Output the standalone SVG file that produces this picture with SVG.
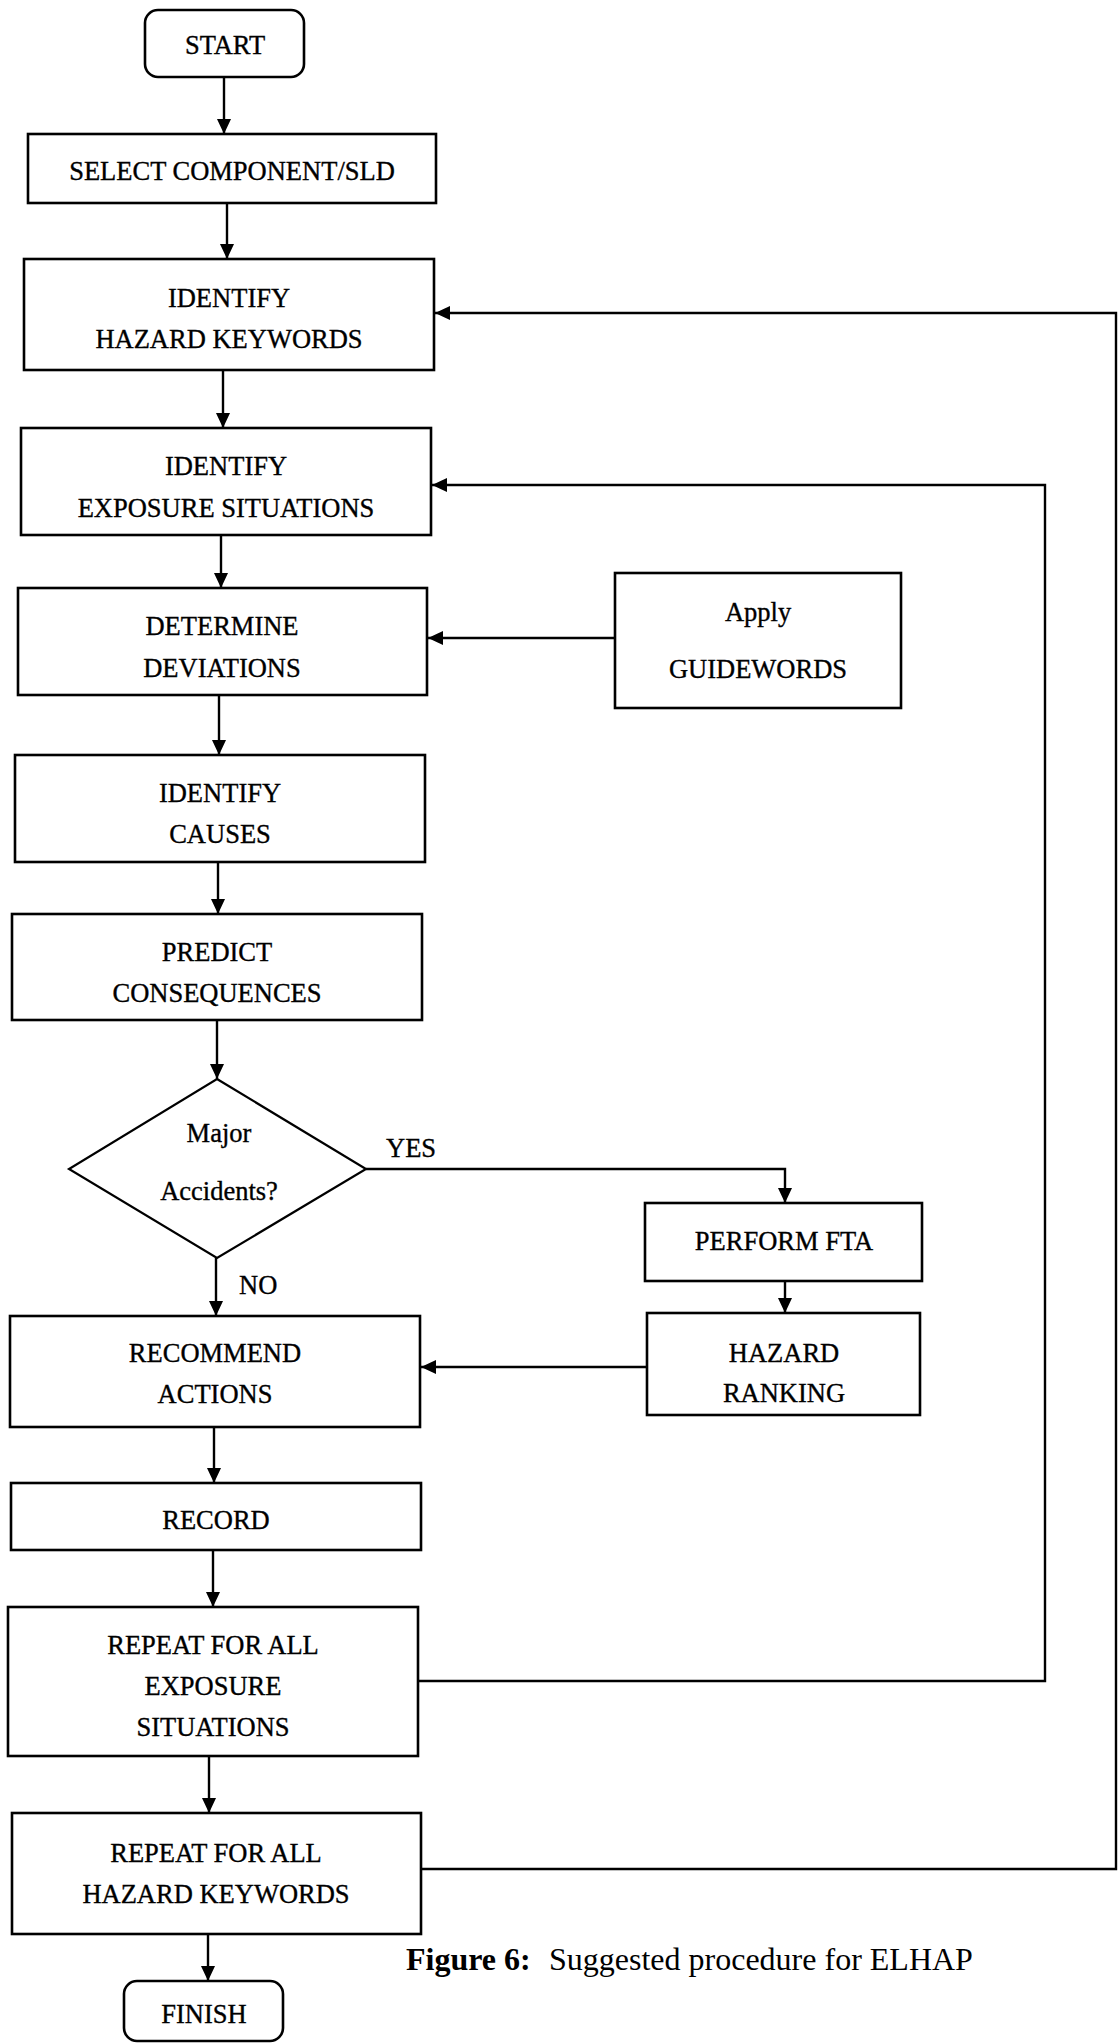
<svg xmlns="http://www.w3.org/2000/svg" width="1119" height="2043" viewBox="0 0 1119 2043">
<defs>
<style>
.box{fill:#fff;stroke:#000;stroke-width:2.6}
.t{font-family:"Liberation Serif","Times New Roman",serif;font-size:26.5px;fill:#000;stroke:#000;stroke-width:0.35;text-anchor:middle}
.lbl{font-family:"Liberation Serif","Times New Roman",serif;font-size:26.5px;fill:#000;stroke:#000;stroke-width:0.35}
.cap{font-family:"Liberation Serif","Times New Roman",serif;font-size:32px;fill:#000}
.c{fill:none;stroke:#000;stroke-width:2.4}
</style>
<marker id="ah" viewBox="0 0 15 14" refX="15" refY="7" markerWidth="15" markerHeight="14" markerUnits="userSpaceOnUse" orient="auto">
<path d="M0,0 L15,7 L0,14 z" fill="#000"/>
</marker>
</defs>
<rect width="1119" height="2043" fill="#fff"/>

<g id="connectors">
<path class="c" d="M224,77 L224,134" marker-end="url(#ah)"/>
<path class="c" d="M227,203 L227,259" marker-end="url(#ah)"/>
<path class="c" d="M223,370 L223,428" marker-end="url(#ah)"/>
<path class="c" d="M221,535 L221,588" marker-end="url(#ah)"/>
<path class="c" d="M219,695 L219,755" marker-end="url(#ah)"/>
<path class="c" d="M218,862 L218,914" marker-end="url(#ah)"/>
<path class="c" d="M217,1020 L217,1079" marker-end="url(#ah)"/>
<path class="c" d="M216,1258 L216,1316" marker-end="url(#ah)"/>
<path class="c" d="M366,1169 L785,1169 L785,1203" marker-end="url(#ah)"/>
<path class="c" d="M785,1281 L785,1313" marker-end="url(#ah)"/>
<path class="c" d="M647,1367 L421,1367" marker-end="url(#ah)"/>
<path class="c" d="M615,638 L428,638" marker-end="url(#ah)"/>
<path class="c" d="M214,1427 L214,1483" marker-end="url(#ah)"/>
<path class="c" d="M213,1550 L213,1607" marker-end="url(#ah)"/>
<path class="c" d="M209,1756 L209,1813" marker-end="url(#ah)"/>
<path class="c" d="M208,1934 L208,1981" marker-end="url(#ah)"/>
<path class="c" d="M418,1681 L1045,1681 L1045,485 L432,485" marker-end="url(#ah)"/>
<path class="c" d="M421,1869 L1116,1869 L1116,313 L435,313" marker-end="url(#ah)"/>
<text class="lbl" x="386" y="1157">YES</text>
<text class="lbl" x="239" y="1294">NO</text>
</g>

<g id="start">
<rect class="box" x="145" y="10" width="159" height="67" rx="13"/>
<text class="t" x="225" y="54">START</text>
</g>
<g id="select">
<rect class="box" x="28" y="134" width="408" height="69"/>
<text class="t" x="232" y="180">SELECT COMPONENT/SLD</text>
</g>
<g id="identify-hazard">
<rect class="box" x="24" y="259" width="410" height="111"/>
<text class="t" x="229" y="307">IDENTIFY</text>
<text class="t" x="229" y="348">HAZARD KEYWORDS</text>
</g>
<g id="identify-exposure">
<rect class="box" x="21" y="428" width="410" height="107"/>
<text class="t" x="226" y="475">IDENTIFY</text>
<text class="t" x="226" y="517">EXPOSURE SITUATIONS</text>
</g>
<g id="determine">
<rect class="box" x="18" y="588" width="409" height="107"/>
<text class="t" x="222" y="635">DETERMINE</text>
<text class="t" x="222" y="677">DEVIATIONS</text>
</g>
<g id="apply">
<rect class="box" x="615" y="573" width="286" height="135"/>
<text class="t" x="758" y="621">Apply</text>
<text class="t" x="758" y="678">GUIDEWORDS</text>
</g>
<g id="identify-causes">
<rect class="box" x="15" y="755" width="410" height="107"/>
<text class="t" x="220" y="802">IDENTIFY</text>
<text class="t" x="220" y="843">CAUSES</text>
</g>
<g id="predict">
<rect class="box" x="12" y="914" width="410" height="106"/>
<text class="t" x="217" y="961">PREDICT</text>
<text class="t" x="217" y="1002">CONSEQUENCES</text>
</g>
<g id="major-accidents">
<polygon class="box" points="217,1079 366,1169 217,1258 69,1169" style="stroke-width:2.2"/>
<text class="t" x="219" y="1142">Major</text>
<text class="t" x="219" y="1200">Accidents?</text>
</g>
<g id="perform-fta">
<rect class="box" x="645" y="1203" width="277" height="78"/>
<text class="t" x="784" y="1250">PERFORM FTA</text>
</g>
<g id="hazard-ranking">
<rect class="box" x="647" y="1313" width="273" height="102"/>
<text class="t" x="784" y="1362">HAZARD</text>
<text class="t" x="784" y="1402">RANKING</text>
</g>
<g id="recommend">
<rect class="box" x="10" y="1316" width="410" height="111"/>
<text class="t" x="215" y="1362">RECOMMEND</text>
<text class="t" x="215" y="1403">ACTIONS</text>
</g>
<g id="record">
<rect class="box" x="11" y="1483" width="410" height="67"/>
<text class="t" x="216" y="1529">RECORD</text>
</g>
<g id="repeat-exposure">
<rect class="box" x="8" y="1607" width="410" height="149"/>
<text class="t" x="213" y="1654">REPEAT FOR ALL</text>
<text class="t" x="213" y="1695">EXPOSURE</text>
<text class="t" x="213" y="1736">SITUATIONS</text>
</g>
<g id="repeat-hazard">
<rect class="box" x="12" y="1813" width="409" height="121"/>
<text class="t" x="216" y="1862">REPEAT FOR ALL</text>
<text class="t" x="216" y="1903">HAZARD KEYWORDS</text>
</g>
<g id="finish">
<rect class="box" x="124" y="1981" width="159" height="60" rx="13"/>
<text class="t" x="204" y="2023">FINISH</text>
</g>

<text class="cap" x="406" y="1970"><tspan font-weight="bold">Figure 6:</tspan><tspan x="549">Suggested procedure for ELHAP</tspan></text>
</svg>
